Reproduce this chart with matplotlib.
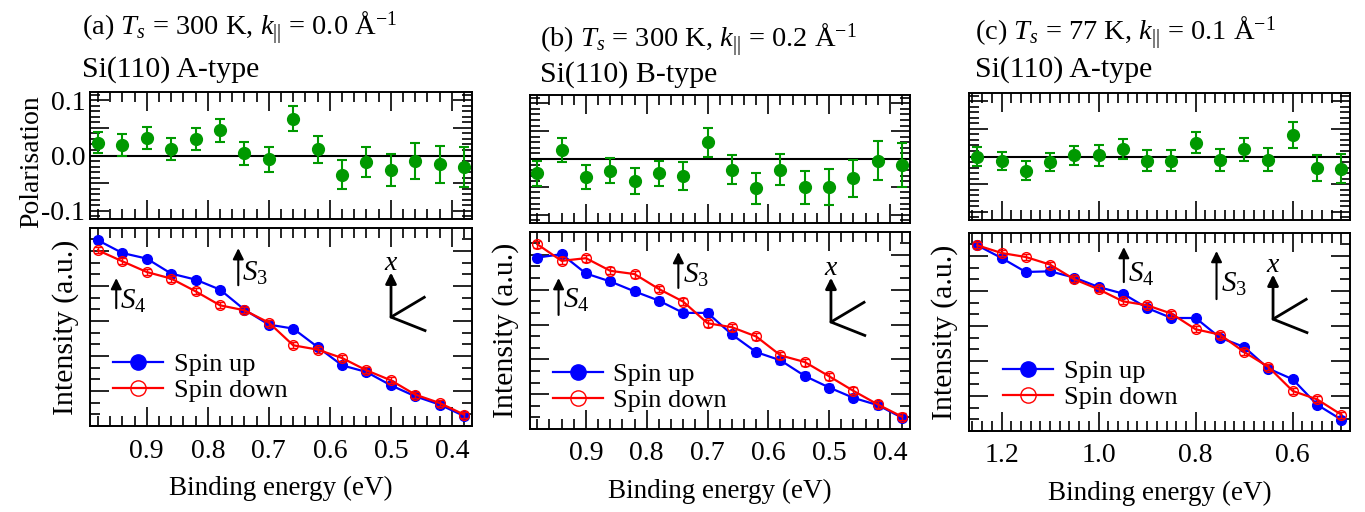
import numpy as np
import matplotlib.pyplot as plt
from matplotlib.lines import Line2D
from matplotlib.ticker import MultipleLocator, FuncFormatter, FormatStrFormatter
import matplotlib.transforms as mtransforms

plt.rcParams['font.family'] = ['Liberation Serif', 'DejaVu Serif']
plt.rcParams['mathtext.fontset'] = 'custom'
plt.rcParams['mathtext.rm'] = 'Liberation Serif'
plt.rcParams['mathtext.it'] = 'Liberation Serif:italic'
plt.rcParams['axes.unicode_minus'] = False
plt.rcParams['font.size'] = 19

# ---- data ----
# binding energies (eV)
energy_ab = [0.98, 0.94, 0.90, 0.86, 0.82, 0.78, 0.74, 0.70,
             0.66, 0.62, 0.58, 0.54, 0.50, 0.46, 0.42, 0.38]
energy_c = [1.25, 1.20, 1.15, 1.10, 1.05, 1.00, 0.95, 0.90,
            0.85, 0.80, 0.75, 0.70, 0.65, 0.60, 0.55, 0.50]

# spin polarisation and its error
pol_a = [0.023, 0.019, 0.032, 0.012, 0.030, 0.046, 0.004, -0.007,
         0.067, 0.011, -0.035, -0.012, -0.027, -0.010, -0.016, -0.021]
pol_a_err = [0.019, 0.020, 0.020, 0.020, 0.020, 0.021, 0.021, 0.023,
             0.023, 0.025, 0.026, 0.027, 0.029, 0.032, 0.033, 0.036]
pol_b = [-0.026, 0.016, -0.032, -0.021, -0.040, -0.026, -0.031, 0.030,
         -0.019, -0.053, -0.019, -0.051, -0.050, -0.035, -0.003, -0.011]
pol_b_err = [0.022, 0.022, 0.022, 0.022, 0.023, 0.023, 0.025, 0.026,
             0.026, 0.027, 0.028, 0.030, 0.032, 0.034, 0.035, 0.039]
pol_c = [0.000, -0.008, -0.026, -0.010, 0.002, 0.002, 0.014, -0.008,
         -0.008, 0.025, -0.006, 0.013, -0.006, 0.039, -0.021, -0.022]
pol_c_err = [0.017, 0.017, 0.017, 0.017, 0.017, 0.019, 0.018, 0.019,
             0.019, 0.019, 0.020, 0.021, 0.021, 0.023, 0.024, 0.026]

# spin-resolved intensities (a.u.)
up_a = [18.57, 17.30, 16.74, 15.24, 14.64, 13.64, 11.64, 10.14,
        9.74, 7.90, 6.07, 5.40, 4.07, 2.97, 2.14, 1.00]
down_a = [17.57, 16.47, 15.40, 14.74, 13.47, 12.07, 11.57, 10.34,
          8.07, 7.64, 6.80, 5.57, 4.57, 3.14, 2.30, 1.14]
up_b = [17.23, 17.57, 15.63, 14.83, 13.83, 12.90, 11.67, 11.67,
        9.50, 7.73, 6.90, 5.33, 4.17, 3.13, 2.40, 1.13]
down_b = [18.57, 16.90, 17.17, 15.90, 15.57, 14.07, 12.80, 10.63,
          10.23, 9.30, 7.40, 6.73, 5.30, 3.83, 2.47, 1.23]
up_c = [18.57, 17.30, 15.90, 15.97, 15.34, 14.40, 13.74, 12.30,
        11.30, 11.30, 9.34, 8.40, 6.24, 5.17, 2.64, 1.14]
down_c = [18.57, 17.80, 17.40, 16.64, 15.17, 14.17, 12.97, 12.57,
          11.74, 10.17, 9.64, 7.90, 6.40, 4.00, 3.17, 1.64]
int_err = [0.30, 0.35, 0.30]

# surface state energies marked by arrows (eV)
s4_energy = [0.95, 0.945, 0.948]
s3_energy = [0.75, 0.748, 0.757]

titles = [r"(a) $T_s$ = 300 K, $k_{||}$ = 0.0 Å$^{-1}$",
          r"(b) $T_s$ = 300 K, $k_{||}$ = 0.2 Å$^{-1}$",
          r"(c) $T_s$ = 77 K, $k_{||}$ = 0.1 Å$^{-1}$"]
subtitles = ["Si(110) A-type", "Si(110) B-type", "Si(110) A-type"]

W, H = 1365, 512
fig = plt.figure(figsize=(W / 100, H / 100), dpi=100)


def rect(x0, y0, x1, y1):
    return [x0 / W, 1 - y1 / H, (x1 - x0) / W, (y1 - y0) / H]


# layout (pixels): top axes, bottom axes, title y positions
layout = [
    dict(top=(90, 92, 472, 219), bot=(90, 228, 472, 426), tx=82, ty=(28, 70),
         xlim=(0.993, 0.367), xmaj=0.1, leg=(0.06, 0.12),
         s4y=(0.595, 0.747, 0.63), s3y=(0.711, 0.898, 0.77), sk=(0.788, 0.55)),
    dict(top=(530, 95, 910, 223), bot=(530, 232, 910, 429), tx=540, ty=(40, 75),
         xlim=(0.992, 0.367), xmaj=0.1, leg=(0.06, 0.085),
         s4y=(0.579, 0.766, 0.655), s3y=(0.716, 0.898, 0.78), sk=(0.792, 0.543)),
    dict(top=(969, 93, 1350, 220), bot=(969, 233, 1350, 431), tx=975, ty=(33, 70),
         xlim=(1.267, 0.482), xmaj=0.2, leg=(0.09, 0.11),
         s4y=(0.752, 0.929, 0.79), s3y=(0.666, 0.909, 0.74), sk=(0.798, 0.565)),
]

energies = [energy_ab, energy_ab, energy_c]
pols = [pol_a, pol_b, pol_c]
pol_errs = [pol_a_err, pol_b_err, pol_c_err]
ups = [up_a, up_b, up_c]
downs = [down_a, down_b, down_c]

green = '#009900'
blue = '#0000ff'
red = '#ff0000'


def style(ax):
    ax.tick_params(which='both', direction='in', top=True, right=True, width=1.2,
                   labelsize=20)
    ax.tick_params(which='major', length=14)
    ax.tick_params(which='minor', length=7)
    for s in ax.spines.values():
        s.set_linewidth(1.4)


def pol_fmt(v, p):
    if abs(round(v / 0.1) * 0.1 - v) > 1e-6:
        return ''
    return f'{v:.1f}'.replace('-0.0', '0.0')


for i, L in enumerate(layout):
    E = energies[i]
    ax1 = fig.add_axes(rect(*L['top']))
    ax2 = fig.add_axes(rect(*L['bot']), sharex=ax1)

    # polarisation
    ax1.axhline(0, color='k', lw=1.5, zorder=1)
    ax1.errorbar(E, pols[i], yerr=pol_errs[i], fmt='o', color=green, ms=8.5,
                 elinewidth=1.5, capsize=3.5, capthick=1.5, zorder=3)
    ax1.set_ylim(-0.115, 0.115)
    ax1.yaxis.set_major_locator(MultipleLocator(0.05))
    ax1.yaxis.set_minor_locator(MultipleLocator(0.01))
    if i == 0:
        ax1.yaxis.set_major_formatter(FuncFormatter(pol_fmt))
        ax1.set_ylabel('Polarisation', fontsize=20)
        ax1.yaxis.set_label_coords(-0.12, 0.45)
    else:
        ax1.tick_params(labelleft=False)
    ax1.tick_params(labelbottom=False)
    style(ax1)

    # intensity
    ax2.errorbar(E, ups[i], yerr=int_err[i], fmt='-o', color=blue, ms=7, lw=1.6,
                 elinewidth=1.2, capsize=3, zorder=3)
    ax2.errorbar(E, downs[i], yerr=int_err[i], fmt='-o', color=red, mfc='none',
                 mec=red, mew=1.0, ms=7, lw=1.6, elinewidth=1.0, capsize=3, zorder=4)
    ax2.set_ylim(0, 19.8)
    ax2.yaxis.set_major_locator(MultipleLocator(3.5))
    ax2.yaxis.set_minor_locator(MultipleLocator(3.5 / 3))
    ax2.tick_params(labelleft=False)
    ax2.set_ylabel('Intensity (a.u.)', fontsize=21.5)
    ax2.yaxis.set_label_coords(-0.03, 0.5)

    ax2.set_xlim(*L['xlim'])
    ax2.xaxis.set_major_locator(MultipleLocator(L['xmaj']))
    ax2.xaxis.set_minor_locator(MultipleLocator(0.02))
    ax2.xaxis.set_major_formatter(FormatStrFormatter('%.1f'))
    ax2.tick_params(axis='x', pad=9)
    ax2.set_xlabel('Binding energy (eV)', fontsize=19.5, labelpad=9)
    style(ax2)

    handles = [Line2D([], [], color=blue, marker='o', ms=11, lw=1.6),
               Line2D([], [], color=red, marker='o', mfc='none', ms=11, mew=1.0, lw=1.6)]
    ax2.legend(handles, ['Spin up', 'Spin down'], loc='lower left',
               bbox_to_anchor=L['leg'], frameon=False, handlelength=1.9,
               handletextpad=0.4, labelspacing=0.1, borderpad=0, borderaxespad=0,
               fontsize=19)

    # surface state arrows
    trans = mtransforms.blended_transform_factory(ax2.transData, ax2.transAxes)
    for name, en, yy in [('$S_4$', s4_energy[i], L['s4y']), ('$S_3$', s3_energy[i], L['s3y'])]:
        ax2.annotate('', xy=(en, yy[1]), xytext=(en, yy[0]), xycoords=trans,
                     textcoords=trans,
                     arrowprops=dict(arrowstyle='-|>', color='k', lw=1.5,
                                     mutation_scale=16, shrinkA=0, shrinkB=0))
        ax2.annotate(name, xy=(en, yy[2]), xycoords=trans, xytext=(3, 0),
                     textcoords='offset points', va='center', ha='left', fontsize=21)

    # coordinate sketch
    bx, by = L['sk']
    ax2.annotate('', xy=(bx, by + 0.225), xytext=(bx, by), xycoords='axes fraction',
                 arrowprops=dict(arrowstyle='-|>', color='k', lw=2,
                                 mutation_scale=16, shrinkA=0, shrinkB=0))
    ax2.plot([bx + 0.087, bx, bx + 0.089], [by + 0.1, by, by - 0.068], color='k',
             lw=2, transform=ax2.transAxes, clip_on=False)
    ax2.text(bx, by + 0.27, '$x$', transform=ax2.transAxes, ha='center', va='center',
             fontsize=20)

    # titles
    fig.text(L['tx'] / W, 1 - L['ty'][0] / H, titles[i], ha='left', va='center', fontsize=20.5)
    fig.text(L['tx'] / W, 1 - L['ty'][1] / H, subtitles[i], ha='left', va='center', fontsize=21.5)

fig.savefig('out.png', dpi=100)
